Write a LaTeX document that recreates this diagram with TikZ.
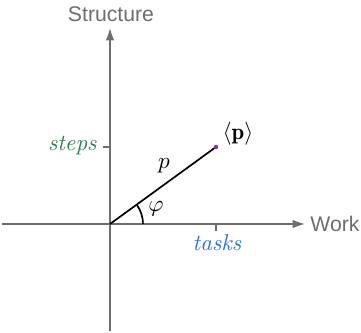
\documentclass[tikz,border=0pt]{standalone}
\usepackage{fontspec}
\newfontfamily\axisfont{Liberation Sans}
\usetikzlibrary{arrows.meta}
\definecolor{axisgray}{HTML}{6E6E6E}
\definecolor{stepgreen}{HTML}{2E7D4F}
\definecolor{taskblue}{HTML}{2F6FDB}
\definecolor{ptpurple}{HTML}{8E2BB0}
\tikzset{
  axisline/.style={draw=axisgray, line width=0.6pt},
  axisarrow/.style={axisline, -{Latex[length=5.8pt,width=4pt]}},
  axislabel/.style={text=axisgray, font=\axisfont, inner sep=0pt},
  ticks/.style={draw=axisgray, line width=0.6pt},
  vecline/.style={draw=black, line width=0.8pt},
  mlabel/.style={inner sep=0pt, font=\fontsize{10.8}{13}\selectfont}
}
\begin{document}
\begin{tikzpicture}[x=0.4717pt, y=-0.4717pt]
\useasboundingbox (0,0) rectangle (361,333);
% coordinates
\coordinate (O) at (110,224);
\coordinate (xl) at (2,224);
\coordinate (xr) at (305,224);
\coordinate (yb) at (110,331);
\coordinate (yt) at (110,28);
\coordinate (P) at (216,147);
\coordinate (tx) at (216,224);
\coordinate (txe) at (216,231);
\coordinate (ty) at (110,147);
\coordinate (tye) at (103,147);
% axes
\draw[axisarrow] (xl) -- (xr);
\draw[axisarrow] (yb) -- (yt);
\draw[ticks] (tx) -- (txe);
\draw[ticks] (ty) -- (tye);
% labels
\node[axislabel, anchor=south] (struct) at (111,22) {Structure};
\node[axislabel, anchor=west] (work) at (310,224) {Work};
\node[mlabel, text=stepgreen, anchor=east] (steps) at (97,146) {$\mathit{steps}$};
\node[mlabel, text=taskblue] (tasks) at (217,243) {$\mathit{tasks}$};
% vector
\draw[vecline] (O) -- (P);
\draw[vecline] ([shift={(33,0)}]O) arc[start angle=0, end angle=-36, radius=33];
\fill[ptpurple] (P) circle[radius=2.2];
\node[mlabel] (plabel) at (164,166) {$p$};
\node[mlabel] (phi) at (156,209) {$\varphi$};
\node[mlabel] (pvec) at (238,134) {$\langle\mathbf{p}\rangle$};
\end{tikzpicture}
\end{document}
